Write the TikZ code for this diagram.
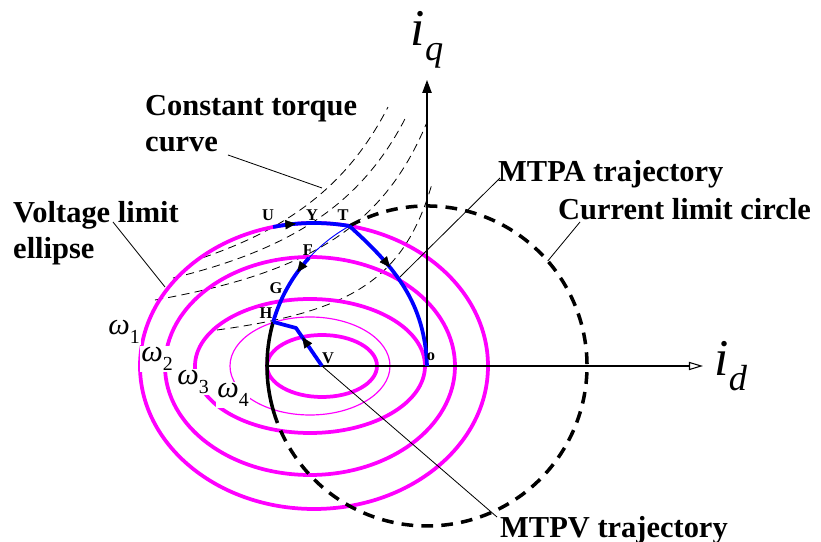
\documentclass[tikz,border=0pt]{standalone}
\usepackage{fontspec}
\setmainfont{Liberation Serif}
\usetikzlibrary{arrows.meta,positioning,decorations.markings}
\definecolor{ellmag}{HTML}{FF00FF}
\definecolor{trajblue}{HTML}{0000FF}
\newcommand{\wsub}[1]{{\itshape ω}\raisebox{-0.28em}{\fontsize{17}{17}\selectfont #1}}
\newcommand{\isub}[1]{{\itshape i}\raisebox{-0.3em}{\fontsize{31}{31}\selectfont\itshape #1}}

\begin{document}
\begin{tikzpicture}[
  x=3mm,y=3mm,
  axis/.style={draw=black,line width=0.9pt},
  voltell/.style={draw=ellmag,line width=3.2pt},
  voltthin/.style={draw=ellmag,line width=1pt},
  curlim/.style={draw=black,line width=3pt,dash pattern=on 10pt off 7pt},
  torque/.style={draw=black,line width=0.7pt,dash pattern=on 7pt off 4.5pt},
  traj/.style={draw=trajblue,line width=3.2pt,line join=round},
  leader/.style={draw=black,line width=0.7pt},
  midtri/.style={postaction={decorate},decoration={markings,
      mark=at position #1 with {\arrow[black]{Triangle[length=9pt,width=8pt,line width=0.4pt]}}}},
  bigtxt/.style={font=\fontsize{26}{30.6}\selectfont\bfseries,inner sep=0pt,align=left},
  ptlbl/.style={font=\fontsize{14}{16}\selectfont\bfseries,inner sep=0pt},
  wlbl/.style={font=\fontsize{26}{30}\selectfont,fill=white,inner sep=1pt},
  axlbl/.style={font=\fontsize{44}{48}\selectfont,inner sep=0pt},
]
\useasboundingbox (-42.7,-17.6) rectangle (39.4,36.6);

% operating points
\coordinate (O) at (0,0);
\coordinate (V) at (-10.5,0);
\coordinate (T) at (119:16);
\coordinate (F) at (137.5:16);
\coordinate (G) at (154.5:16);
\coordinate (H) at (164:16);
\coordinate (U) at (-15.39,13.9);
\coordinate (K) at (-13.1,3.8);
\coordinate (W) at (180:16);
\coordinate (iqend) at (0,28.6);
\coordinate (idend) at (27.6,0);

% constant torque curves
\foreach \kk/\xo/\xa/\xb in {344.7/9.41/-22.4/-3.9, 317/10.63/-25.4/-2,
                              246.2/10.1/-27.2/0, 96.5/5.8/-21/0.5}
  \draw[torque] plot[domain=\xa:\xb,samples=60] (\x,{\kk/(\xo-\x)});

% voltage limit ellipses
\draw[voltell] (-11.3,0) ellipse [x radius=17.4,y radius=14.3];
\draw[voltell] (-11.7,0) ellipse [x radius=14.5,y radius=10.9];
\draw[voltell] (-11.7,0) ellipse [x radius=11.5,y radius=6.7];
\draw[voltthin] (-11.7,0) ellipse [x radius=8,y radius=4.9];
\draw[voltell] (V) ellipse [x radius=5.5,y radius=3.1];

% current limit circle
\draw[curlim] (T) arc[start angle=119,end angle=-160,radius=16];
\draw[black,line width=3pt] (H) arc[start angle=164,end angle=200,radius=16];

% axes
\draw[axis,-{Triangle[length=11pt,width=8pt]}] (O) -- (iqend);
\draw[axis,-{Triangle[open,length=12pt,width=7pt]}] (W) -- (idend);
\node[axlbl,above=3.4mm of iqend] (iq) {\isub{q}};
\node[axlbl,right=3.4mm of idend] (id) {\isub{d}};

% trajectories
\draw[traj,midtri=0.3] (U) arc[start angle=103.6,end angle=78.3,x radius=17.4,y radius=14.3];
\draw[traj,midtri=0.35] (T) to[out=-42,in=92] (O);
\draw[trajblue,line width=0.8pt] (T) arc[start angle=119,end angle=137.5,radius=16];
\draw[traj,midtri=0.25] (F) arc[start angle=137.5,end angle=164,radius=16];
\draw[traj,midtri=0.5] (V) -- (K) -- (H);

% point labels
\node[ptlbl] (lU) at (-15.9,15.1) {U};
\node[ptlbl] (lY) at (-11.5,15.1) {Y};
\node[ptlbl] (lT) at (-8.4,15.1) {T};
\node[ptlbl] (lF) at (-11.9,11.6) {F};
\node[ptlbl] (lG) at (-15.1,7.8) {G};
\node[ptlbl] (lH) at (-16.1,5.3) {H};
\node[ptlbl] (lV) at (-9.9,0.8) {V};
\node[ptlbl] (lo) at (0.4,0.9) {o};

% speed labels
\node[wlbl] (w1) at (-30.3,3.4) {\wsub{1}};
\node[wlbl] (w2) at (-27,0.7) {\wsub{2}};
\node[wlbl] (w3) at (-23.4,-1.6) {\wsub{3}};
\node[wlbl] (w4) at (-19.4,-2.9) {\wsub{4}};

% captions
\node[bigtxt,anchor=north west] (ctq) at (-28.2,27.1) {Constant torque\\curve};
\node[bigtxt,anchor=north west] (vle) at (-41.4,16.5) {Voltage limit\\ellipse};
\node[bigtxt,anchor=base west] (mtpa) at (7.1,18.4) {MTPA trajectory};
\node[bigtxt,anchor=base west] (cur) at (13.1,14.6) {Current limit circle};
\node[bigtxt,anchor=base west] (mtpv) at (7.3,-17.1) {MTPV trajectory};

% leaders
\coordinate (ctqA) at (-19.9,21.1);
\coordinate (ctqB) at (-10.5,17.8);
\coordinate (vleA) at (-31.4,14.4);
\coordinate (vleB) at (-26.2,7.9);
\coordinate (mtpaA) at (7.3,18.8);
\coordinate (mtpaB) at (-2.7,8.9);
\coordinate (curA) at (15.3,14.4);
\coordinate (curB) at (41:16);
\coordinate (mtpvA) at (7,-15.1);
\draw[leader] (ctqA) -- (ctqB);
\draw[leader] (vleA) -- (vleB);
\draw[leader] (mtpaA) -- (mtpaB);
\draw[leader] (curA) -- (curB);
\draw[leader] (V) -- (mtpvA);
\end{tikzpicture}
\end{document}
